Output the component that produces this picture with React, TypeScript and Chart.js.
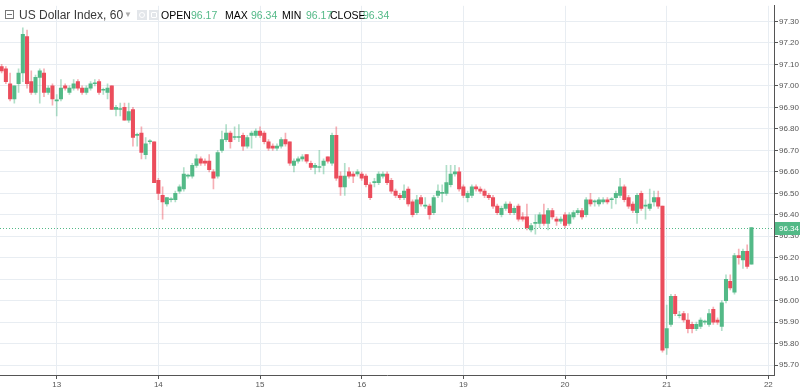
import React, { useEffect, useRef } from "react";
import { Chart, registerables } from "chart.js";

Chart.register(...registerables);

// ---- Data (hourly candles, US Dollar Index, 60) ----
const opens = [
  97.09, 97.08, 97.01, 96.94, 97.01, 97.06, 97.23, 97.02, 96.97, 97.04,
  97.06, 96.97, 97.00, 96.93, 96.94, 97.00, 96.97, 96.99, 97.02, 96.99,
  96.97, 96.99, 97.01, 97.02, 96.98, 96.97, 97.00, 96.89, 96.89, 96.90,
  96.84, 96.89, 96.77, 96.78, 96.68, 96.74, 96.74, 96.56, 96.49, 96.45,
  96.47, 96.47, 96.51, 96.52, 96.58, 96.58, 96.63, 96.66, 96.65, 96.65,
  96.60, 96.58, 96.70, 96.75, 96.78, 96.76, 96.76, 96.77, 96.72, 96.77,
  96.77, 96.79, 96.78, 96.74, 96.72, 96.71, 96.72, 96.75, 96.74, 96.63,
  96.65, 96.66, 96.68, 96.64, 96.62, 96.62, 96.63, 96.67, 96.64, 96.77,
  96.58, 96.53, 96.60, 96.59, 96.59, 96.59, 96.58, 96.54, 96.55, 96.55,
  96.58, 96.59, 96.56, 96.51, 96.49, 96.48, 96.52, 96.46, 96.41, 96.48,
  96.44, 96.44, 96.41, 96.49, 96.50, 96.50, 96.54, 96.59, 96.60, 96.53,
  96.48, 96.49, 96.53, 96.52, 96.51, 96.49, 96.48, 96.44, 96.40, 96.43,
  96.45, 96.41, 96.44, 96.39, 96.39, 96.33, 96.36, 96.36, 96.40, 96.36,
  96.42, 96.38, 96.37, 96.40, 96.36, 96.39, 96.41, 96.42, 96.40, 96.47,
  96.46, 96.45, 96.46, 96.47, 96.47, 96.48, 96.49, 96.53, 96.48, 96.45,
  96.41, 96.50, 96.44, 96.43, 96.46, 96.48, 96.44, 95.78, 95.89, 96.02,
  95.93, 95.94, 95.91, 95.89, 95.87, 95.88, 95.90, 95.89, 95.96, 95.91,
  95.88, 96.00, 96.09, 96.04, 96.21, 96.19, 96.23, 96.17,
];
const highs = [
  97.10, 97.09, 97.06, 97.00, 97.08, 97.27, 97.26, 97.07, 97.05, 97.08,
  97.08, 97.00, 97.01, 96.96, 97.03, 97.01, 97.00, 97.03, 97.03, 97.00,
  97.00, 97.02, 97.03, 97.03, 96.99, 97.01, 97.00, 96.91, 96.92, 96.92,
  96.92, 96.90, 96.78, 96.81, 96.76, 96.75, 96.74, 96.57, 96.53, 96.48,
  96.48, 96.51, 96.54, 96.62, 96.59, 96.64, 96.68, 96.67, 96.66, 96.68,
  96.61, 96.70, 96.79, 96.82, 96.79, 96.81, 96.82, 96.78, 96.77, 96.79,
  96.80, 96.81, 96.79, 96.75, 96.73, 96.73, 96.76, 96.78, 96.74, 96.66,
  96.67, 96.68, 96.68, 96.65, 96.64, 96.70, 96.66, 96.67, 96.78, 96.81,
  96.60, 96.64, 96.62, 96.60, 96.61, 96.60, 96.59, 96.55, 96.57, 96.60,
  96.60, 96.60, 96.57, 96.52, 96.50, 96.54, 96.53, 96.47, 96.49, 96.49,
  96.48, 96.45, 96.49, 96.54, 96.54, 96.63, 96.63, 96.63, 96.62, 96.54,
  96.51, 96.54, 96.54, 96.53, 96.52, 96.50, 96.49, 96.45, 96.44, 96.46,
  96.46, 96.44, 96.45, 96.41, 96.45, 96.36, 96.40, 96.41, 96.45, 96.43,
  96.43, 96.39, 96.39, 96.41, 96.41, 96.42, 96.43, 96.43, 96.48, 96.50,
  96.47, 96.48, 96.48, 96.48, 96.48, 96.51, 96.57, 96.54, 96.49, 96.46,
  96.50, 96.51, 96.47, 96.52, 96.51, 96.51, 96.44, 95.98, 96.03, 96.03,
  95.95, 95.95, 95.94, 95.90, 95.90, 95.92, 95.91, 95.96, 95.97, 95.92,
  96.00, 96.12, 96.12, 96.22, 96.24, 96.24, 96.26, 96.34,
];
const lows = [
  97.06, 97.01, 96.93, 96.92, 96.97, 97.02, 96.99, 96.96, 96.96, 96.92,
  96.95, 96.96, 96.91, 96.86, 96.93, 96.98, 96.96, 96.98, 96.98, 96.96,
  96.96, 96.98, 97.00, 96.96, 96.96, 96.94, 96.89, 96.86, 96.86, 96.84,
  96.83, 96.72, 96.72, 96.66, 96.66, 96.73, 96.55, 96.47, 96.38, 96.44,
  96.46, 96.46, 96.50, 96.51, 96.57, 96.57, 96.62, 96.63, 96.63, 96.60,
  96.52, 96.57, 96.69, 96.74, 96.71, 96.75, 96.74, 96.70, 96.71, 96.71,
  96.76, 96.76, 96.73, 96.70, 96.70, 96.70, 96.71, 96.72, 96.63, 96.60,
  96.64, 96.65, 96.64, 96.61, 96.59, 96.60, 96.59, 96.64, 96.63, 96.56,
  96.49, 96.49, 96.57, 96.55, 96.58, 96.56, 96.53, 96.47, 96.53, 96.54,
  96.57, 96.54, 96.50, 96.48, 96.47, 96.47, 96.44, 96.39, 96.40, 96.44,
  96.43, 96.38, 96.40, 96.48, 96.46, 96.49, 96.53, 96.58, 96.51, 96.48,
  96.46, 96.48, 96.51, 96.50, 96.48, 96.47, 96.43, 96.40, 96.39, 96.42,
  96.40, 96.40, 96.37, 96.37, 96.33, 96.32, 96.31, 96.34, 96.35, 96.33,
  96.38, 96.35, 96.36, 96.34, 96.35, 96.38, 96.40, 96.38, 96.39, 96.44,
  96.44, 96.44, 96.45, 96.45, 96.43, 96.45, 96.48, 96.46, 96.43, 96.41,
  96.36, 96.42, 96.38, 96.42, 96.44, 96.43, 95.76, 95.75, 95.88, 95.93,
  95.92, 95.90, 95.85, 95.85, 95.86, 95.87, 95.89, 95.88, 95.89, 95.89,
  95.86, 95.99, 96.05, 96.03, 96.17, 96.15, 96.15, 96.17,
];
const closes = [
  97.07, 97.02, 96.94, 97.00, 97.06, 97.24, 97.01, 96.97, 97.04, 97.07,
  96.97, 96.99, 96.94, 96.93, 96.99, 96.99, 96.99, 97.01, 96.99, 96.97,
  96.99, 97.01, 97.01, 96.97, 96.98, 96.99, 96.89, 96.90, 96.89, 96.84,
  96.88, 96.76, 96.77, 96.69, 96.73, 96.74, 96.55, 96.50, 96.46, 96.48,
  96.47, 96.50, 96.53, 96.59, 96.58, 96.63, 96.66, 96.64, 96.64, 96.61,
  96.57, 96.69, 96.75, 96.78, 96.74, 96.76, 96.76, 96.72, 96.76, 96.78,
  96.79, 96.77, 96.74, 96.71, 96.71, 96.72, 96.75, 96.73, 96.64, 96.65,
  96.66, 96.67, 96.65, 96.62, 96.63, 96.62, 96.65, 96.65, 96.77, 96.57,
  96.53, 96.58, 96.58, 96.58, 96.60, 96.57, 96.54, 96.48, 96.55, 96.59,
  96.59, 96.55, 96.51, 96.49, 96.48, 96.51, 96.45, 96.40, 96.47, 96.45,
  96.44, 96.40, 96.48, 96.51, 96.50, 96.55, 96.59, 96.60, 96.52, 96.49,
  96.50, 96.53, 96.52, 96.51, 96.49, 96.48, 96.44, 96.41, 96.43, 96.45,
  96.41, 96.43, 96.38, 96.38, 96.34, 96.35, 96.36, 96.40, 96.36, 96.42,
  96.39, 96.37, 96.38, 96.35, 96.40, 96.41, 96.42, 96.39, 96.47, 96.45,
  96.46, 96.47, 96.47, 96.46, 96.47, 96.50, 96.53, 96.47, 96.44, 96.42,
  96.49, 96.43, 96.44, 96.45, 96.48, 96.44, 95.77, 95.87, 96.02, 95.94,
  95.93, 95.91, 95.87, 95.87, 95.89, 95.91, 95.90, 95.94, 95.90, 95.90,
  95.99, 96.10, 96.06, 96.21, 96.20, 96.23, 96.16, 96.34,
];

const dayLabels = ["13", "14", "15", "16", "19", "20", "21", "22"];
const firstDayCandle = 13; // candle index of the first labelled day's 00:00 bar
const candlesPerDay = 24;
const priceTicks = [
  95.7, 95.8, 95.9, 96.0, 96.1, 96.2, 96.3, 96.4, 96.5, 96.6, 96.7, 96.8,
  96.9, 97.0, 97.1, 97.2, 97.3,
];
const lastPrice = 96.34;
const titleText = "US Dollar Index, 60";
const ohlcNames = ["OPEN", "MAX", "MIN", "CLOSE"];
const ohlcValues = ["96.17", "96.34", "96.17", "96.34"];

// ---- Styles ----
const GREEN = "#53b987";
const RED = "#eb4d5c";
const GREEN_WICK = "rgba(83,185,135,0.45)";
const RED_WICK = "rgba(235,77,92,0.45)";
const GRID = "#e8edf2";
const AXIS = "#555555";
const FONT = '"Liberation Sans", Arial, sans-serif';

const ohlcX = [161, 225, 282, 330];
const ohlcValX = [191, 251, 306, 363];

export default function App() {
  const canvasRef = useRef<HTMLCanvasElement | null>(null);

  useEffect(() => {
    const canvas = canvasRef.current;
    if (!canvas) return;
    const up = opens.map((o, i) => closes[i] >= o);
    const bodies = opens.map((o, i) => ({ x: i, y: [o, closes[i]] }));
    const wicks = opens.map((_, i) => ({ x: i, y: [lows[i], highs[i]] }));

    const lastPricePlugin = {
      id: "lastPrice",
      beforeDatasetsDraw(chart: any) {
        const { ctx, chartArea, scales } = chart;
        const py = Math.round(scales.y.getPixelForValue(lastPrice)) + 0.5;
        ctx.save();
        ctx.strokeStyle = GREEN;
        ctx.lineWidth = 1;
        ctx.setLineDash([1, 2]);
        ctx.beginPath();
        ctx.moveTo(chartArea.left, py);
        ctx.lineTo(chartArea.right, py);
        ctx.stroke();
        ctx.restore();
      },
      afterDraw(chart: any) {
        const { ctx, chartArea, scales } = chart;
        const py = Math.round(scales.y.getPixelForValue(lastPrice));
        ctx.save();
        ctx.fillStyle = GREEN;
        ctx.fillRect(chartArea.right + 1, py - 6, 26, 13);
        ctx.fillStyle = "#ffffff";
        ctx.font = `8px ${FONT}`;
        ctx.textBaseline = "middle";
        ctx.textAlign = "left";
        ctx.fillText(lastPrice.toFixed(2), chartArea.right + 5, py + 0.5);
        ctx.restore();
      },
    };

    const chart = new Chart(canvas, {
      type: "bar",
      data: {
        datasets: [
          {
            label: "body",
            data: bodies as any,
            backgroundColor: up.map((u) => (u ? GREEN : RED)),
            borderWidth: 0,
            barThickness: 3.4,
            minBarLength: 1,
            grouped: false,
            order: 1,
          } as any,
          {
            label: "wick",
            data: wicks as any,
            backgroundColor: up.map((u) => (u ? GREEN_WICK : RED_WICK)),
            borderWidth: 0,
            barThickness: 1,
            grouped: false,
            order: 2,
          } as any,
        ],
      },
      options: {
        animation: false,
        responsive: false,
        maintainAspectRatio: false,
        devicePixelRatio: 1,
        layout: { padding: 0 },
        plugins: {
          legend: { display: false },
          tooltip: { enabled: false },
        },
        scales: {
          x: {
            type: "linear",
            min: -0.385,
            max: 182.33,
            offset: false,
            afterBuildTicks: (s: any) => {
              s.ticks = dayLabels.map((_, k) => ({
                value: firstDayCandle + k * candlesPerDay,
              }));
            },
            afterFit: (s: any) => {
              s.height = 15;
            },
            ticks: {
              autoSkip: false,
              maxRotation: 0,
              padding: 1,
              color: AXIS,
              font: { family: FONT, size: 8 },
              callback: (v: any) => {
                const k = Math.round((Number(v) - firstDayCandle) / candlesPerDay);
                return dayLabels[k] ?? "";
              },
            },
            grid: {
              color: GRID,
              offset: false,
              tickColor: AXIS,
              tickLength: 4,
            },
            border: { color: AXIS, width: 1 },
          },
          y: {
            position: "right",
            min: 95.654,
            max: 97.373,
            afterBuildTicks: (s: any) => {
              s.ticks = priceTicks.map((v) => ({ value: v }));
            },
            afterFit: (s: any) => {
              s.width = 26;
            },
            ticks: {
              padding: 1,
              color: AXIS,
              font: { family: FONT, size: 8 },
              callback: (v: any) => Number(v).toFixed(2),
            },
            grid: {
              color: GRID,
              tickColor: AXIS,
              tickLength: 4,
            },
            border: { color: AXIS, width: 1 },
          },
        },
      } as any,
      plugins: [lastPricePlugin],
    });
    return () => chart.destroy();
  }, []);

  const abs = (extra: React.CSSProperties): React.CSSProperties => ({
    position: "absolute",
    whiteSpace: "nowrap",
    lineHeight: 1,
    ...extra,
  });

  return (
    <div
      style={{
        position: "fixed",
        left: 0,
        top: 0,
        width: 800,
        height: 390,
        background: "#ffffff",
        fontFamily: FONT,
      }}
    >
      <canvas ref={canvasRef} width={800} height={390} style={{ display: "block" }} />
      <div style={abs({ left: 0, top: 0, width: 400, height: 30, pointerEvents: "none" })}>
        <div
          style={abs({
            left: 5,
            top: 10,
            width: 7,
            height: 7,
            border: "1px solid #777",
            background: "#fff",
          })}
        >
          <div style={abs({ left: 1, top: 3, width: 5, height: 1, background: "#777" })} />
        </div>
        <span style={abs({ left: 19, top: 9, fontSize: 12, color: "#3a3a3a" })}>{titleText}</span>
        <span style={abs({ left: 124, top: 11, fontSize: 8, color: "#aaaaaa" })}>▼</span>
        <div style={abs({ left: 137, top: 10, width: 10, height: 10, background: "#e3e6ea" })}>
          <div style={abs({ left: 2, top: 2, width: 4, height: 4, border: "1px solid #fff", borderRadius: 4 })} />
        </div>
        <div style={abs({ left: 149, top: 10, width: 10, height: 10, background: "#e3e6ea" })}>
          <div style={abs({ left: 2, top: 2, width: 4, height: 4, border: "1px solid #fff", borderRadius: 1 })} />
        </div>
        {ohlcNames.map((n, i) => (
          <span key={n} style={abs({ left: ohlcX[i], top: 10, fontSize: 10.5, color: "#000" })}>
            {n}
          </span>
        ))}
        {ohlcValues.map((v, i) => (
          <span key={"v" + i} style={abs({ left: ohlcValX[i], top: 10, fontSize: 10.5, color: GREEN })}>
            {v}
          </span>
        ))}
      </div>
    </div>
  );
}
